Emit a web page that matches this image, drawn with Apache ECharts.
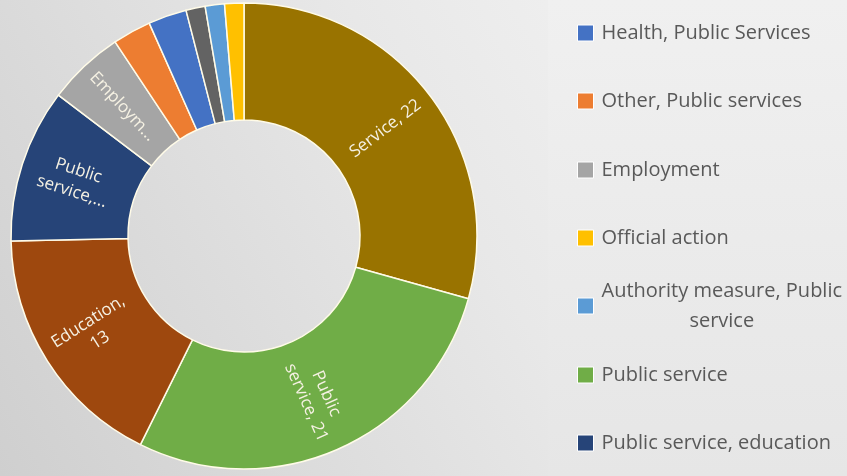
<!DOCTYPE html>
<html>
<head>
<meta charset="utf-8">
<script src="https://cdn.jsdelivr.net/npm/echarts@6/dist/echarts.min.js"></script>
<style>
html,body{margin:0;padding:0;width:847px;height:476px;overflow:hidden;}
#chart{width:847px;height:476px;}
</style>
</head>
<body>
<div id="chart"></div>
<script>
// Slices in clockwise order starting at 12 o'clock
const categories = [
  'Service',
  'Public service',
  'Education',
  'Public service, education',
  'Employment',
  'Other, Public services',
  'Health, Public Services',
  'Other',
  'Authority measure, Public service',
  'Official action'
];
const values = [22, 21, 13, 8, 4, 2, 2, 1, 1, 1];
const sliceLabels = [
  'Service, 22',
  'Public\nservice, 21',
  'Education,\n13',
  'Public\nservice,...',
  'Employm...',
  '', '', '', '', ''
];
const colors = ['#997300', '#70AD47', '#9E480E', '#264478', '#A5A5A5',
                '#ED7D31', '#4472C4', '#636363', '#5B9BD5', '#FFC000'];
const legendItems = [
  'Health, Public Services',
  'Other, Public services',
  'Employment',
  'Official action',
  'Authority measure, Public service',
  'Public service',
  'Public service, education'
];
const legendTops = [13, 81, 150, 218, 271, 355, 423];

const chart = echarts.init(document.getElementById('chart'));
const legends = legendItems.map((name, i) => ({
  show: true,
  data: [name],
  orient: 'vertical',
  left: 572,
  top: legendTops[i],
  itemWidth: 16,
  itemHeight: 16,
  icon: 'rect',
  itemStyle: { borderColor: '#ffffff', borderWidth: 1 },
  selectedMode: false,
  formatter: function (n) {
    if (n === 'Authority measure, Public service') {
      return '{a|Authority measure, Public}\n{b|service}';
    }
    return n;
  },
  textStyle: {
    fontFamily: 'Open Sans',
    fontSize: 20,
    color: '#595959',
    padding: [0, 0, 0, 3],
    lineHeight: 30,
    rich: {
      a: { fontFamily: 'Open Sans', fontSize: 20, color: '#595959', lineHeight: 30 },
      b: { fontFamily: 'Open Sans', fontSize: 20, color: '#595959', lineHeight: 30, align: 'center' }
    }
  }
}));

chart.setOption({
  backgroundColor: {
    type: 'linear', x: 0, y: 1, x2: 1, y2: 0,
    colorStops: [
      { offset: 0, color: '#cfcfcf' },
      { offset: 0.55, color: '#e8e8e8' },
      { offset: 1, color: '#f7f7f7' }
    ]
  },
  graphic: [{
    type: 'rect',
    left: 548, top: 0, z: -1,
    shape: { width: 299, height: 476 },
    style: {
      fill: {
        type: 'linear', x: 0, y: 0, x2: 0, y2: 1,
        colorStops: [
          { offset: 0, color: '#f0f0f0' },
          { offset: 1, color: '#e6e6e6' }
        ]
      }
    }
  }],
  color: colors,
  legend: legends,
  series: [{
    type: 'pie',
    center: [244, 236],
    radius: [116, 233],
    startAngle: 90,
    clockwise: true,
    avoidLabelOverlap: false,
    silent: true,
    itemStyle: { borderColor: '#fffbe8', borderWidth: 1.5 },
    label: {
      show: true,
      position: 'inside',
      rotate: 'radial',
      fontFamily: 'Open Sans',
      fontSize: 17,
      lineHeight: 22,
      color: '#f5f1e3',
      align: 'center',
      formatter: function (p) { return sliceLabels[p.dataIndex]; }
    },
    labelLine: { show: false },
    data: categories.map((c, i) => ({ name: c, value: values[i] }))
  }]
});
</script>
</body>
</html>
